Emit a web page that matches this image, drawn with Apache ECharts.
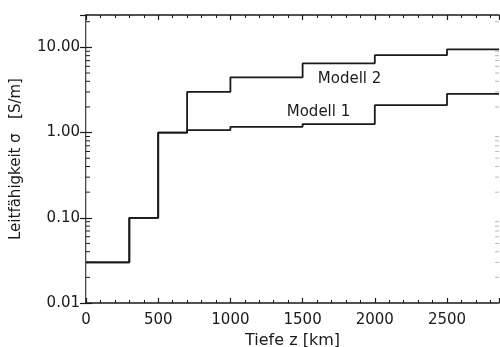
<!DOCTYPE html>
<html>
<head>
<meta charset="utf-8">
<script src="https://cdn.jsdelivr.net/npm/echarts@6/dist/echarts.min.js"></script>
<style>
  html, body { margin: 0; padding: 0; background: #fff; }
  #chart { width: 500px; height: 347px; }
</style>
</head>
<body>
<div id="chart"></div>
<script>
// depth (km) where each layer starts; last entry closes the final layer
var depths = [0, 300, 500, 700, 1000, 1500, 2000, 2500, 2860];
// conductivity per layer (S/m), last value repeated to close the step
var modell1 = [0.03, 0.1, 1.0, 1.07, 1.17, 1.26, 2.1, 2.85, 2.85];
var modell2 = [0.03, 0.1, 1.0, 3.0, 4.45, 6.5, 8.1, 9.5, 9.5];
var xMin = 0, xMax = 2860;
var yMin = 0.01, yMax = 24;
var decades = [0.01, 0.1, 1, 10];
var minorMult = [2, 3, 4, 5, 6, 7, 8, 9];

var minorY = [];
decades.forEach(function (d) {
  minorMult.forEach(function (m) {
    var v = +(d * m).toPrecision(3);
    if (v < yMax) minorY.push(v);
  });
});

function pairs(ys) {
  return depths.map(function (x, i) { return [x, ys[i]]; });
}

var font = 'DejaVu Sans';
var ink = '#1a1a1a';

var chart = echarts.init(document.getElementById('chart'));

var xCommon = {
  type: 'value', min: xMin, max: xMax, interval: 500,
  axisLine: { show: true, lineStyle: { color: ink, width: 1.6 } },
  axisTick: { show: true, inside: true, length: 5, lineStyle: { color: ink, width: 1.2 } },
  minorTick: { show: true, splitNumber: 5, length: 3, lineStyle: { color: ink, width: 1 } },
  splitLine: { show: false }
};

var yCommon = {
  type: 'log', logBase: 10, min: yMin, max: yMax,
  axisLine: { show: true, lineStyle: { color: ink, width: 1.6 } },
  axisTick: { show: true, inside: true, length: 6, lineStyle: { color: ink, width: 1.2 } },
  splitLine: { show: false }
};

chart.setOption({
  animation: false,
  backgroundColor: '#fff',
  textStyle: { fontFamily: font },
  grid: { left: 86, right: 1, top: 15, bottom: 44, containLabel: false, outerBoundsMode: 'none' },
  xAxis: [
    Object.assign({}, xCommon, {
      position: 'bottom',
      name: 'Tiefe z [km]', nameLocation: 'middle', nameGap: 30,
      nameTextStyle: { fontFamily: font, fontSize: 16, color: ink },
      axisLabel: {
        margin: 10, fontFamily: font, fontSize: 15, color: ink, showMaxLabel: false,
        formatter: function (v) { return String(v); }
      }
    }),
    Object.assign({}, xCommon, {
      position: 'top',
      axisLabel: { show: false }
    })
  ],
  yAxis: [
    Object.assign({}, yCommon, {
      position: 'left',
      name: 'Leitfähigkeit σ   [S/m]', nameLocation: 'middle', nameGap: 62, nameRotate: 90,
      nameTextStyle: { fontFamily: font, fontSize: 15, color: ink },
      axisLabel: {
        margin: 6, fontFamily: font, fontSize: 15, color: ink, showMaxLabel: false,
        formatter: function (v) { return v.toFixed(2); }
      }
    }),
    Object.assign({}, yCommon, {
      position: 'right',
      axisLine: { show: true, lineStyle: { color: '#c8c8c8', width: 1 } },
      axisLabel: { show: false }
    })
  ],
  series: [
    {
      name: 'Modell 1', type: 'line', step: 'end', symbol: 'none',
      data: pairs(modell1),
      lineStyle: { color: ink, width: 1.8 },
      markPoint: {
        symbol: 'rect', symbolSize: 1, itemStyle: { color: 'transparent' },
        label: { show: true, position: 'inside', fontFamily: font, fontSize: 15, color: ink,
                 formatter: 'Modell 1' },
        data: [{ coord: [1610, 1.72] }]
      }
    },
    {
      name: 'Modell 2', type: 'line', step: 'end', symbol: 'none',
      data: pairs(modell2),
      lineStyle: { color: ink, width: 1.8 },
      markPoint: {
        symbol: 'rect', symbolSize: 1, itemStyle: { color: 'transparent' },
        label: { show: true, position: 'inside', fontFamily: font, fontSize: 15, color: ink,
                 formatter: 'Modell 2' },
        data: [{ coord: [1825, 4.28] }]
      }
    },
    {
      // log-spaced minor ticks on the left and right frame
      type: 'custom', silent: true, clip: false,
      data: minorY.map(function (v) { return [xMin, v]; }),
      renderItem: function (params, api) {
        var v = api.value(1);
        var l = api.coord([xMin, v]);
        var r = api.coord([xMax, v]);
        return {
          type: 'group',
          children: [
            { type: 'line', shape: { x1: l[0], y1: l[1], x2: l[0] + 4, y2: l[1] }, style: { stroke: ink, lineWidth: 1 } },
            { type: 'line', shape: { x1: r[0] - 4, y1: r[1], x2: r[0], y2: r[1] }, style: { stroke: '#bbb', lineWidth: 1 } }
          ]
        };
      }
    }
  ]
});
</script>
</body>
</html>
